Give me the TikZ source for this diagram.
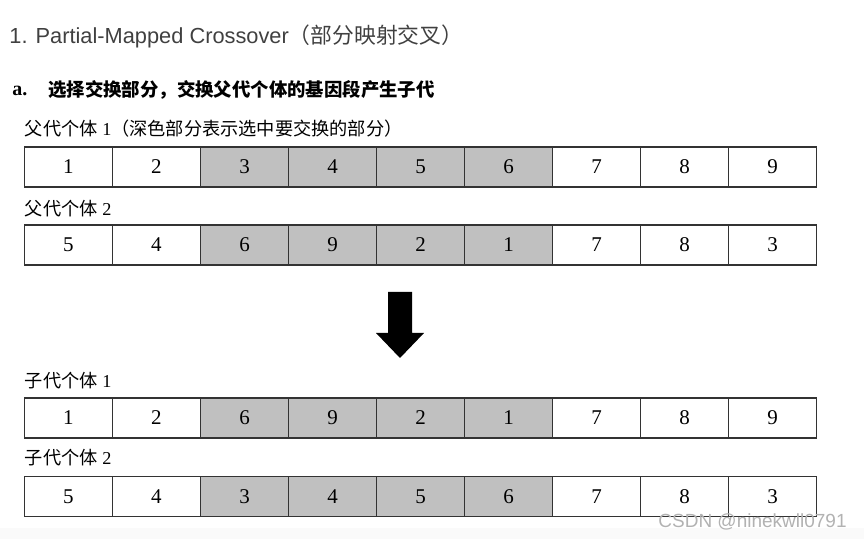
\documentclass[tikz,border=0pt]{standalone}
\usepackage{fontspec}
\setmainfont{Liberation Serif}
\newfontfamily\arial{Liberation Sans}
\newfontfamily\cjk{Noto Sans CJK SC}
\usetikzlibrary{calc}
\definecolor{swapcol}{HTML}{C0C0C0}
\definecolor{titlecol}{HTML}{404040}
\tikzstyle{gene}=[rectangle,draw=black!80,line width=0.7pt,minimum width=44pt,minimum height=20pt,inner sep=0pt,font=\fontsize{10.5}{11}\selectfont]
\tikzstyle{rowlabel}=[anchor=west,inner sep=0pt,font=\fontsize{9.1}{10}\selectfont]

\begin{document}
\begin{tikzpicture}[x=0.5pt,y=-0.5pt]
\def \rowx {24.5};
\def \cellw {88};

\useasboundingbox (0,0) rectangle (864,539);
\fill[gray!4] (0,528) rectangle (864,539);

% title and heading
\node[anchor=west,inner sep=0pt,text=titlecol,font=\fontsize{10.9}{12}\selectfont] (title) at (9,36)
	{\arial 1. Partial-Mapped Crossover\cjk（部分映射交叉）};
\node[anchor=west,inner sep=0pt,font=\fontsize{10}{10}\selectfont\bfseries] (a) at (12,91) {a.};
\node[anchor=west,inner sep=0pt,font=\fontsize{9.2}{10}\selectfont\bfseries] (head) at (48,90)
	{\cjk 选择交换部分，交换父代个体的基因段产生子代};

% row labels
\node[rowlabel] (lp1) at (\rowx,128.5) {{\cjk 父代个体} 1{\cjk （深色部分表示选中要交换的部分）}};
\node[rowlabel] (lp2) at (\rowx,208.5) {{\cjk 父代个体} 2};
\node[rowlabel] (lc1) at (\rowx,381) {{\cjk 子代个体} 1};
\node[rowlabel] (lc2) at (\rowx,457.5) {{\cjk 子代个体} 2};

% chromosomes
\foreach \r/\y/\vals in {p1/167/{1,2,3,4,5,6,7,8,9},p2/245/{5,4,6,9,2,1,7,8,3},c1/418/{1,2,6,9,2,1,7,8,9},c2/496.5/{5,4,3,4,5,6,7,8,3}} {
	\foreach \v [count=\i] in \vals {
		\def\shade{white}
		\ifnum\i>2 \ifnum\i<7 \def\shade{swapcol}\fi\fi
		\node[gene,fill=\shade] (\r-\i) at (\rowx + \cellw*\i - \cellw/2, \y) {\v};
	};
};

% big down arrow
\fill[black] (388,292) -- (412,292) -- (412,333) -- (424,333) -- (400,358) -- (376,333) -- (388,333) -- cycle;

% watermark
\node[anchor=west,inner sep=0pt,text=gray!60,font=\fontsize{9.5}{10}\selectfont\arial] (mark) at (658,522) {CSDN @ninekwll0791};

\end{tikzpicture}
\end{document}
